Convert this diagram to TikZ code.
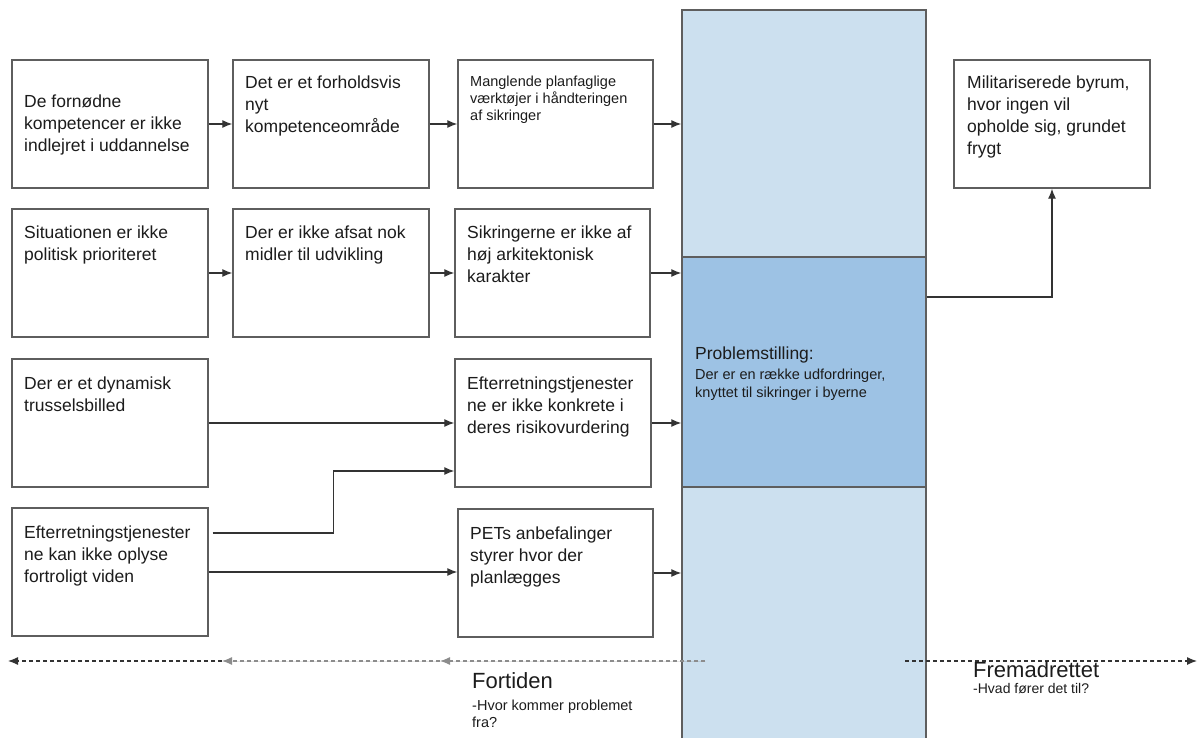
\documentclass[tikz,border=0pt]{standalone}
\usepackage{fontspec}
\setmainfont{Liberation Sans}
\usetikzlibrary{arrows.meta,calc}
\definecolor{colfill}{HTML}{CCE0EF}
\definecolor{probfill}{HTML}{9DC2E4}
\definecolor{edge}{HTML}{5E5E5E}
\definecolor{ink}{HTML}{1C1C1C}
\definecolor{wire}{HTML}{333333}
\definecolor{fadewire}{HTML}{8C8C8C}

\begin{document}
\begin{tikzpicture}[x=1pt,y=-1pt,
  box/.style={draw=edge, line width=1.4pt, fill=white, rectangle, inner sep=0pt,
              minimum width=196pt, minimum height=128pt},
  band/.style={draw=edge, line width=1.4pt, rectangle, inner sep=0pt, minimum width=244pt},
  % texts are placed by the baseline of their last line
  txt/.style={anchor=base west, align=left, inner sep=0pt, text=ink,
              font=\fontsize{17.5}{22}\selectfont},
  smalltxt/.style={txt, font=\fontsize{14.5}{17}\selectfont},
  arr/.style={draw=wire, line width=1.2pt, -{Latex[length=10pt,width=8pt]}},
  timeline/.style={line width=1.2pt, dash pattern=on 4pt off 3pt,
                   -{Latex[length=10pt,width=8pt]}},
]
\useasboundingbox (0,0) rectangle (1199,738);

% central column and problem statement
\node[band, fill=colfill, minimum height=740pt] (col) at (804,380) {};
\node[band, fill=probfill, minimum height=230pt] (prob) at (804,372) {};
\node[txt] (probtitle) at (695,359) {Problemstilling:};
\node[txt, font=\fontsize{14.5}{18.5}\selectfont] (probtext) at (695,397.5)
  {Der er en række udfordringer,\\knyttet til sikringer i byerne};

% cause boxes
\node[box] (a11) at (110,124) {};
\node[box] (a12) at (331,124) {};
\node[box, minimum width=195pt] (a13) at (555.5,124) {};
\node[box] (a21) at (110,273) {};
\node[box] (a22) at (331,273) {};
\node[box, minimum width=195pt] (a23) at (552.5,273) {};
\node[box] (a31) at (110,423) {};
\node[box] (a33) at (553,423) {};
\node[box] (a41) at (110,572) {};
\node[box, minimum width=195pt] (a43) at (555.5,573) {};
\node[box] (res) at (1052,124) {};

\node[txt] (t11) at (24,152) {De fornødne\\kompetencer er ikke\\indlejret i uddannelse};
\node[txt] (t12) at (245,133) {Det er et forholdsvis\\nyt\\kompetenceområde};
\node[smalltxt] (t13) at (470,121) {Manglende planfaglige\\værktøjer i håndteringen\\af sikringer};
\node[txt] (t21) at (24,260) {Situationen er ikke\\politisk prioriteret};
\node[txt] (t22) at (245,260) {Der er ikke afsat nok\\midler til udvikling};
\node[txt] (t23) at (467,282) {Sikringerne er ikke af\\høj arkitektonisk\\karakter};
\node[txt] (t31) at (24,411) {Der er et dynamisk\\trusselsbilled};
\node[txt] (t33) at (467,433) {Efterretningstjenester\\ne er ikke konkrete i\\deres risikovurdering};
\node[txt] (t41) at (24,582) {Efterretningstjenester\\ne kan ikke oplyse\\fortroligt viden};
\node[txt] (t43) at (470,583) {PETs anbefalinger\\styrer hvor der\\planlægges};
\node[txt] (tres) at (967,155) {Militariserede byrum,\\hvor ingen vil\\opholde sig, grundet\\frygt};

% cause chains
\draw[arr] (a11.east) -- (a12.west);
\draw[arr] (a12.east) -- (a13.west);
\draw[arr] (a13.east) -- (a13.east -| col.west);
\draw[arr] (a21.east) -- (a22.west);
\draw[arr] (a22.east) -- (a23.west);
\draw[arr] (a23.east) -- (a23.east -| prob.west);
\draw[arr] (a31.east) -- (a33.west);
\draw[arr] ([shift={(4,-39)}]a41.east) -- ++(121,0) |- ($(a33.west)+(0,48)$);
\draw[arr] (a41.east) -- (a41.east -| a43.west);
\draw[arr] (a33.east) -- (a33.east -| prob.west);
\draw[arr] (a43.east) -- (a43.east -| col.west);

% consequence
\draw[arr] ($(prob.east)+(0,-75)$) -| (res.south);

% time axis
\coordinate (p0) at (705,661);
\coordinate (p1) at (440,661);
\coordinate (p2) at (222,661);
\coordinate (p3) at (8,661);
\coordinate (f0) at (905,661);
\coordinate (f1) at (1197,661);
\draw[timeline, draw=fadewire, fill=wire] (p0) -- (p1);
\draw[timeline, draw=fadewire, fill=wire] (p1) -- (p2);
\draw[timeline, draw=wire] (p2) -- (p3);
\draw[timeline, draw=wire] (f0) -- (f1);

\node[txt, font=\fontsize{22}{26}\selectfont] (past) at (472,688) {Fortiden};
\node[txt, font=\fontsize{14.5}{17}\selectfont] (pastq) at (472,727) {-Hvor kommer problemet\\fra?};
\node[txt, font=\fontsize{22}{26}\selectfont] (future) at (973,677) {Fremadrettet};
\node[txt, font=\fontsize{14}{17}\selectfont] (futureq) at (973,693) {-Hvad fører det til?};
\end{tikzpicture}
\end{document}
